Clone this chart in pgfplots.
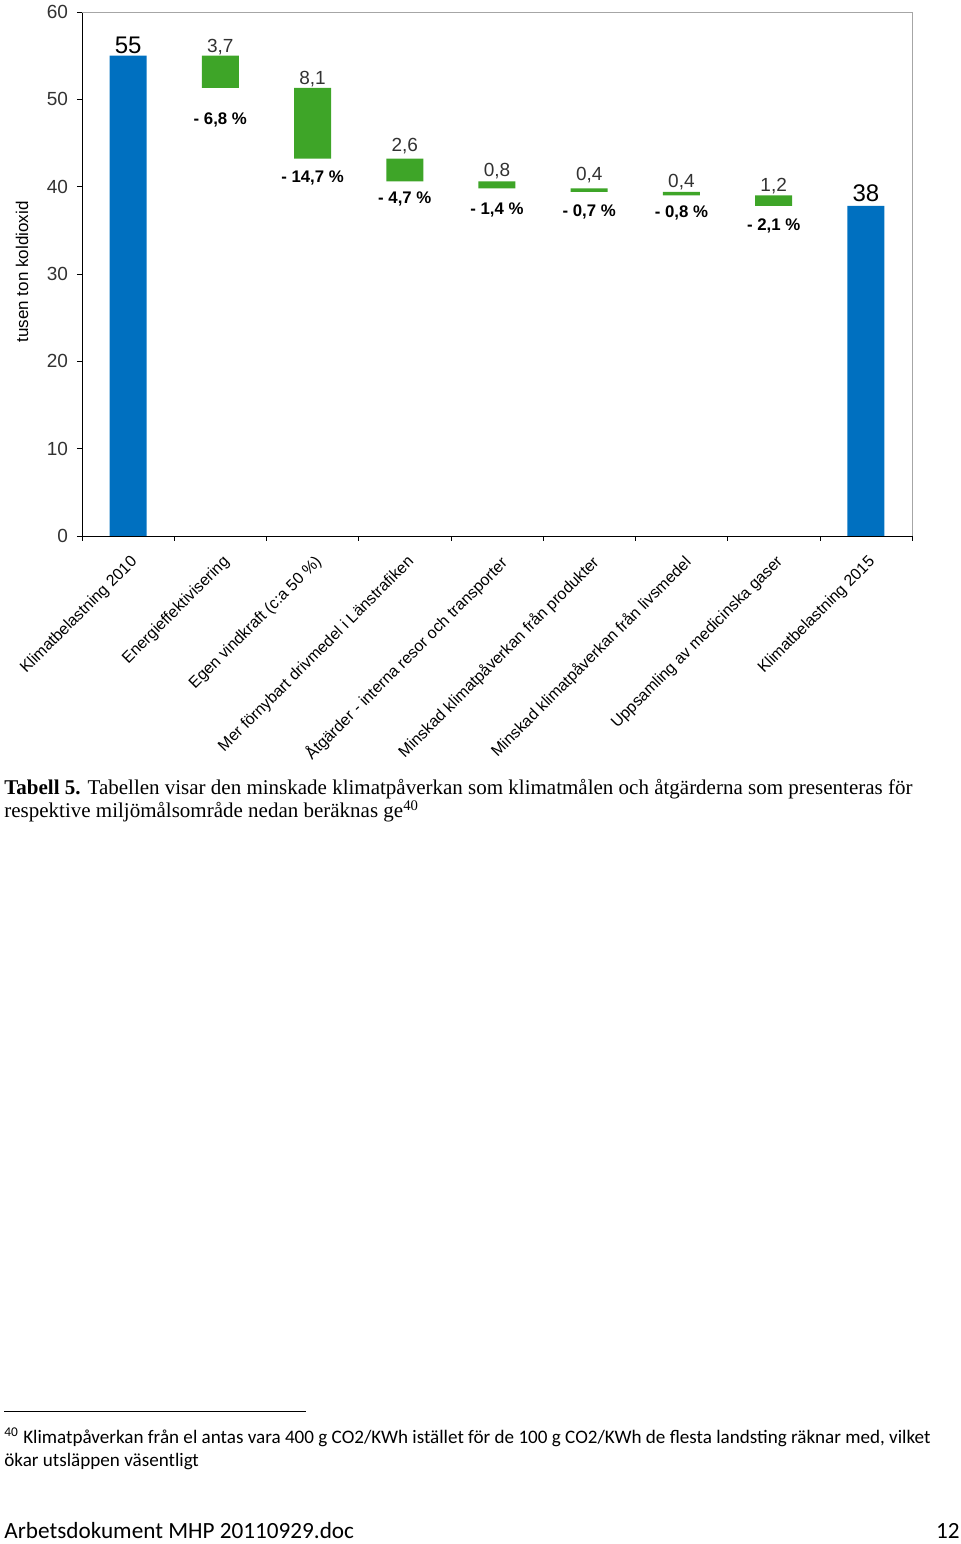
\documentclass[border=0pt]{standalone}
\usepackage{pgfplots}
\usepackage{pgfplotstable}
\pgfplotsset{compat=1.18}
\usepackage{fontspec}
\setmainfont{Liberation Sans}
\newfontfamily\timesf{Liberation Serif}
\newfontfamily\calib{Carlito}
\definecolor{barblue}{RGB}{0,112,192}
\definecolor{bargreen}{RGB}{62,165,40}
\definecolor{tickgray}{RGB}{50,50,50}

\pgfplotstableread{
x base blue green
0 0 55 0
1 51.3 0 3.7
2 43.2 0 8.1
3 40.6 0 2.6
4 39.8 0 0.8
5 39.4 0 0.4
6 39.0 0 0.4
7 37.8 0 1.2
8 0 37.8 0
}\bars

\pgfplotstableread{
x y label
1 56.0 {3,7}
2 52.3 {8,1}
3 44.7 {2,6}
4 41.8 {0,8}
5 41.3 {0,4}
6 40.5 {0,4}
7 40.1 {1,2}
}\vals

\pgfplotstableread{
x y label
0 56.2 {55}
8 39.3 {38}
}\bigvals

\pgfplotstableread{
x y label
1 47.6 {- 6,8 \%}
2 41.0 {- 14,7 \%}
3 38.6 {- 4,7 \%}
4 37.3 {- 1,4 \%}
5 37.1 {- 0,7 \%}
6 37.0 {- 0,8 \%}
7 35.5 {- 2,1 \%}
}\pcts

\begin{document}
\begin{tikzpicture}
\useasboundingbox (0,0) rectangle (480pt,772pt);
\begin{axis}[
  at={(41pt,504pt)}, anchor=south west, scale only axis,
  width=415pt, height=262pt,
  ybar stacked, bar width=18.5pt,
  xmin=-0.5, xmax=8.5, ymin=0, ymax=60,
  ytick={0,10,...,60},
  xtick={0,...,8},
  xticklabels={Klimatbelastning 2010, Energieffektivisering, Egen vindkraft (c:a 50 \%), Mer förnybart drivmedel i Länstrafiken, Åtgärder - interna resor och transporter, Minskad klimatpåverkan från produkter, Minskad klimatpåverkan från livsmedel, Uppsamling av medicinska gaser, Klimatbelastning 2015},
  minor xtick={-0.5,0.5,...,8.5},
  major x tick style={draw=none},
  minor tick length=2.5pt, major tick length=2.5pt,
  tick align=outside,
  axis x line*=bottom, axis y line*=left,
  axis line style={black},
  tick style={black},
  /pgf/number format/assume math mode=true,
  yticklabel style={font=\fontsize{9.5}{10}\selectfont, text=tickgray, xshift=-1pt},
  xticklabel style={rotate=45, anchor=north east, font=\fontsize{8}{9}\selectfont, inner sep=1pt, yshift=-4pt, xshift=-3pt},
  ylabel={tusen ton koldioxid},
  every axis y label/.style={at={(axis description cs:-0.0723,0.504)}, rotate=90, anchor=center, font=\fontsize{8.5}{9}\selectfont},
  clip=false,
]
\addplot[draw=none, fill=none] table[x=x,y=base]{\bars};
\addplot[draw=none, fill=barblue] table[x=x,y=blue]{\bars};
\addplot[draw=none, fill=bargreen] table[x=x,y=green]{\bars};
\draw[gray!70] (rel axis cs:0,1) -- (rel axis cs:1,1) -- (rel axis cs:1,0);
\end{axis}
\begin{axis}[
  at={(41pt,504pt)}, anchor=south west, scale only axis,
  width=415pt, height=262pt,
  xmin=-0.5, xmax=8.5, ymin=0, ymax=60,
  hide axis, clip=false,
]
\addplot[only marks, mark=none, nodes near coords, point meta=explicit symbolic,
  nodes near coords style={anchor=center, font=\fontsize{9.5}{10}\selectfont, text=tickgray}]
  table[x=x,y=y,meta=label]{\vals};
\addplot[only marks, mark=none, nodes near coords, point meta=explicit symbolic,
  nodes near coords style={anchor=center, font=\fontsize{12}{12}\selectfont}]
  table[x=x,y=y,meta=label]{\bigvals};
\addplot[only marks, mark=none, nodes near coords, point meta=explicit symbolic,
  nodes near coords style={anchor=center, font=\bfseries\fontsize{8.4}{9}\selectfont}]
  table[x=x,y=y,meta=label]{\pcts};
\end{axis}
\node[anchor=base west, inner sep=0] at (2pt,374.5pt) {\timesf\fontsize{10.5}{12}\selectfont\textbf{Tabell 5.} Tabellen visar den minskade klimatpåverkan som klimatmålen och åtgärderna som presenteras för};
\node[anchor=base west, inner sep=0] at (2pt,363pt) {\timesf\fontsize{10.5}{12}\selectfont respektive miljömålsområde nedan beräknas ge\textsuperscript{40}};
\draw[line width=0.5pt] (2pt,66pt) -- (153pt,66pt);
\node[anchor=base west, inner sep=0] at (2pt,50pt) {\calib\fontsize{9.55}{11}\selectfont\textsuperscript{40} Klimatpåverkan från el antas vara 400 g CO2/KWh istället för de 100 g CO2/KWh de flesta landsting räknar med, vilket};
\node[anchor=base west, inner sep=0] at (2pt,38.5pt) {\calib\fontsize{9.55}{11}\selectfont ökar utsläppen väsentligt};
\node[anchor=base west, inner sep=0] at (2pt,2.5pt) {\calib\fontsize{11.6}{14}\selectfont Arbetsdokument MHP 20110929.doc};
\node[anchor=base east, inner sep=0] at (480pt,2.5pt) {\calib\fontsize{11.6}{14}\selectfont 12};
\end{tikzpicture}
\end{document}
